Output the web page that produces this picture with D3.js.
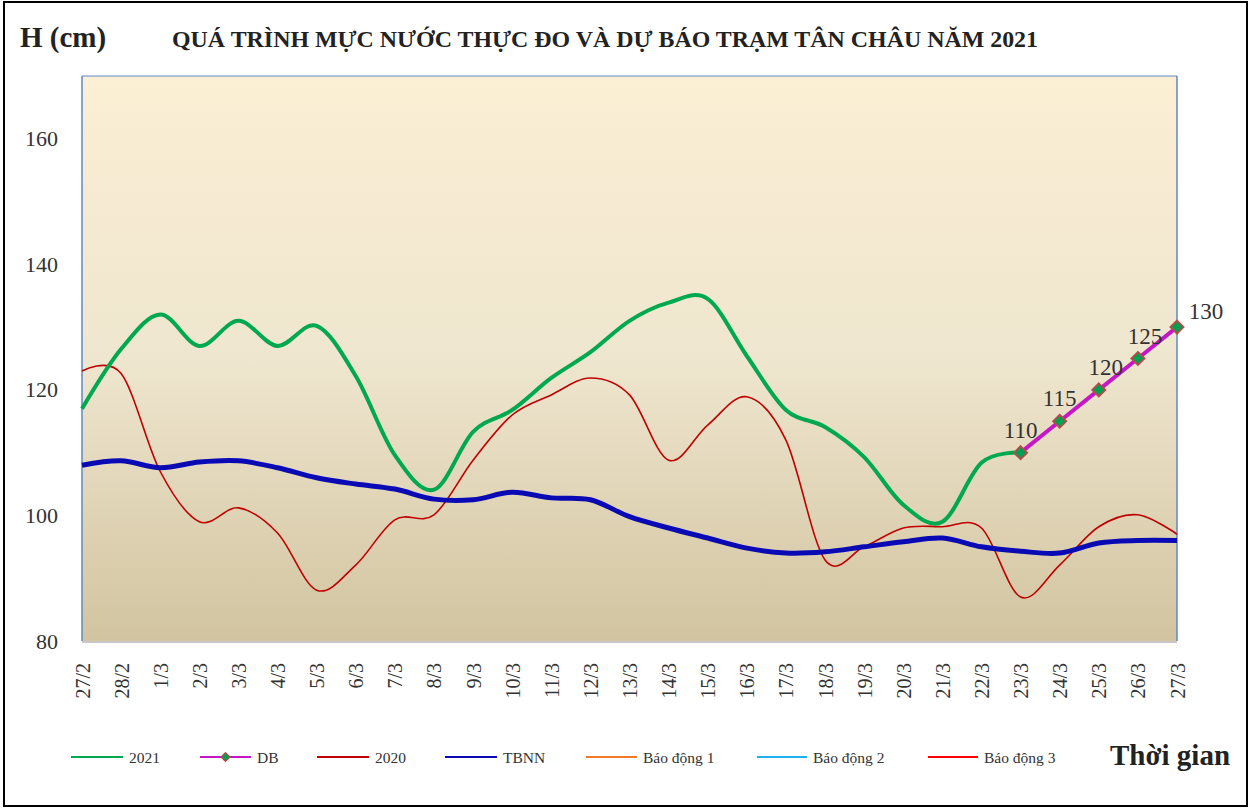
<!DOCTYPE html>
<html>
<head>
<meta charset="utf-8">
<script src="https://cdn.jsdelivr.net/npm/d3@7"></script>
<style>
  body { margin: 0; background: #fff; }
  text { font-family: "Liberation Serif", "Times New Roman", serif; }
</style>
</head>
<body>
<div id="chart"></div>
<script>
// Ngày quan trắc
const ngay = ["27/2","28/2","1/3","2/3","3/3","4/3","5/3","6/3","7/3","8/3","9/3","10/3","11/3","12/3",
  "13/3","14/3","15/3","16/3","17/3","18/3","19/3","20/3","21/3","22/3","23/3","24/3","25/3","26/3","27/3"];

// Mực nước (cm)
const h2021 = [117,126.5,132,127,131,127,130.2,122.2,109.6,104.1,113.3,116.8,121.9,126,131,133.9,134.5,
  125.4,116.8,114.1,109.3,101.7,99,108.4,110];
const ngayDB = ["23/3","24/3","25/3","26/3","27/3"];
const hDB = [110,115,120,125,130];
const h2020 = [123,122.6,107,99,101.2,97.2,88.1,92.1,99.3,100.1,108.8,116,119.2,121.9,119.2,108.8,114.4,
  118.9,112,92.9,95,98,98.2,98,87,92.1,98.2,100.1,97];
const hTBNN = [108,108.7,107.6,108.5,108.7,107.6,106,105,104.2,102.6,102.5,103.7,102.8,102.5,99.8,98,96.4,
  94.8,94,94.2,95,95.8,96.4,95,94.3,94,95.6,96,96];
const yTicks = [80,100,120,140,160];

const W = 1258, H = 810;
const m = {left: 82, right: 1177, top: 76, bottom: 641};

const svg = d3.select("#chart").append("svg")
  .attr("width", W).attr("height", H);

// Khung ngoài
svg.append("rect")
  .attr("x", 4).attr("y", 2).attr("width", 1243).attr("height", 804)
  .attr("fill", "#fff").attr("stroke", "#000").attr("stroke-width", 2);

const grad = svg.append("defs").append("linearGradient")
  .attr("id", "nen").attr("x1", 0).attr("y1", 0).attr("x2", 0).attr("y2", 1);
grad.append("stop").attr("offset", "0%").attr("stop-color", "#fbefd4");
grad.append("stop").attr("offset", "50%").attr("stop-color", "#efe6cf");
grad.append("stop").attr("offset", "100%").attr("stop-color", "#d2c4a0");

const x = d3.scalePoint().domain(ngay).range([m.left, m.right]);
const y = d3.scaleLinear().domain([80, 170]).range([m.bottom, m.top]);

svg.append("rect")
  .attr("x", m.left).attr("y", m.top)
  .attr("width", m.right - m.left).attr("height", m.bottom - m.top)
  .attr("fill", "url(#nen)");

// Viền vùng vẽ
svg.append("line").attr("x1", m.left).attr("x2", m.left).attr("y1", m.top).attr("y2", m.bottom)
  .attr("stroke", "#5b8ac6").attr("stroke-width", 1.5);
svg.append("line").attr("x1", m.right).attr("x2", m.right).attr("y1", m.top).attr("y2", m.bottom)
  .attr("stroke", "#5b8ac6").attr("stroke-width", 1.5);
svg.append("line").attr("x1", m.left).attr("x2", m.right).attr("y1", m.top).attr("y2", m.top)
  .attr("stroke", "#5b8ac6").attr("stroke-width", 1);
svg.append("line").attr("x1", m.left).attr("x2", m.right).attr("y1", m.bottom + 1).attr("y2", m.bottom + 1)
  .attr("stroke", "#c8c8c8").attr("stroke-width", 2);

// Trục Y
const yAxis = svg.append("g")
  .attr("transform", `translate(${m.left},0)`)
  .call(d3.axisLeft(y).tickValues(yTicks).tickSize(0).tickPadding(24));
yAxis.select(".domain").remove();
yAxis.selectAll("text").attr("font-size", 22).attr("fill", "#333")
  .style("font-family", "'Liberation Serif', serif");

// Trục X
const xAxis = svg.append("g")
  .attr("transform", `translate(0,${m.bottom})`)
  .call(d3.axisBottom(x).tickSize(0));
xAxis.select(".domain").remove();
xAxis.selectAll("text")
  .attr("font-size", 20).attr("fill", "#333")
  .style("font-family", "'Liberation Serif', serif")
  .attr("text-anchor", "end")
  .attr("transform", "rotate(-90)")
  .attr("x", -22).attr("y", 0).attr("dy", "0.35em");

const curve = d3.curveCardinal;
const lineOf = (cats) => d3.line()
  .x((d, i) => x(cats[i])).y(d => y(d)).curve(curve);

svg.append("path").datum(h2020)
  .attr("d", lineOf(ngay)).attr("fill", "none")
  .attr("stroke", "#c00000").attr("stroke-width", 1.6);

svg.append("path").datum(hTBNN)
  .attr("d", lineOf(ngay)).attr("fill", "none")
  .attr("stroke", "#0a0ab4").attr("stroke-width", 5);

svg.append("path").datum(h2021)
  .attr("d", lineOf(ngay)).attr("fill", "none")
  .attr("stroke", "#00a84f").attr("stroke-width", 4);

svg.append("path").datum(hDB)
  .attr("d", d3.line().x((d, i) => x(ngayDB[i])).y(d => y(d))).attr("fill", "none")
  .attr("stroke", "#c617c6").attr("stroke-width", 4);

const diamond = d3.symbol().type(d3.symbolDiamond2).size(110);
svg.selectAll(".db").data(hDB).enter().append("path")
  .attr("transform", (d, i) => `translate(${x(ngayDB[i])},${y(d)})`)
  .attr("d", diamond)
  .attr("fill", "#00a050").attr("stroke", "#b84a4a").attr("stroke-width", 1.8);

// Nhãn giá trị dự báo
const last = hDB.length - 1;
svg.selectAll(".nhan").data(hDB).enter().append("text")
  .attr("x", (d, i) => x(ngayDB[i]) + (i === last ? 29 : (i >= 2 ? 7 : 0)))
  .attr("y", (d, i) => y(d) - (i === last ? 8 : 15))
  .attr("text-anchor", "middle")
  .attr("font-size", 23).attr("fill", "#333")
  .text(d => d);

// Tiêu đề
svg.append("text").attr("x", 20).attr("y", 47)
  .attr("font-size", 29).attr("font-weight", "bold").attr("fill", "#222")
  .text("H (cm)");
svg.append("text").attr("x", 172).attr("y", 47)
  .attr("font-size", 23).attr("font-weight", "bold").attr("fill", "#222")
  .attr("textLength", 866).attr("lengthAdjust", "spacingAndGlyphs")
  .text("QUÁ TRÌNH MỰC NƯỚC THỰC ĐO VÀ DỰ BÁO TRẠM TÂN CHÂU NĂM 2021");
svg.append("text").attr("x", 1110).attr("y", 765)
  .attr("font-size", 29).attr("font-weight", "bold").attr("fill", "#222")
  .text("Thời gian");

// Chú thích
const legendItems = [
  {name: "2021", color: "#00a84f", x: 71, len: 52},
  {name: "DB", color: "#c617c6", x: 200, len: 51, marker: true},
  {name: "2020", color: "#c00000", x: 317, len: 52},
  {name: "TBNN", color: "#0a0ab4", x: 445, len: 52},
  {name: "Báo động 1", color: "#f07a2a", x: 586, len: 51},
  {name: "Báo động 2", color: "#1fb0ef", x: 757, len: 50},
  {name: "Báo động 3", color: "#ff0000", x: 928, len: 50}
];
const lg = svg.append("g");
legendItems.forEach(it => {
  lg.append("line").attr("x1", it.x).attr("x2", it.x + it.len)
    .attr("y1", 757).attr("y2", 757)
    .attr("stroke", it.color).attr("stroke-width", 2.2);
  if (it.marker) {
    lg.append("path").attr("transform", `translate(${it.x + it.len / 2},757)`)
      .attr("d", d3.symbol().type(d3.symbolDiamond2).size(50))
      .attr("fill", "#00a050").attr("stroke", "#b84a4a").attr("stroke-width", 1.2);
  }
  lg.append("text").attr("x", it.x + it.len + 6).attr("y", 763)
    .attr("font-size", 15.5).attr("fill", "#333").text(it.name);
});
</script>
</body>
</html>
